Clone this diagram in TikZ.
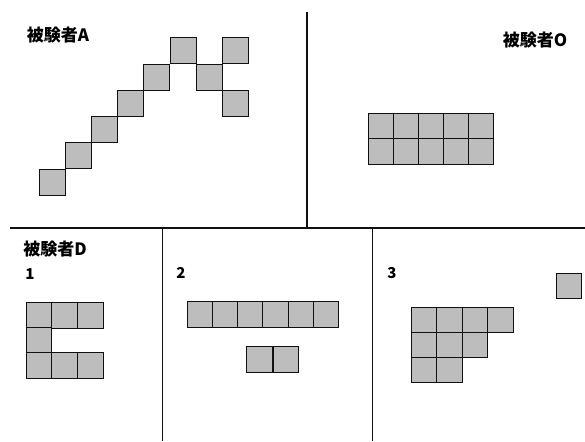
\documentclass[tikz,border=0pt]{standalone}
\usepackage{fontspec}
\newfontfamily\jpfont{Noto Sans CJK JP}
\usetikzlibrary{positioning}
\definecolor{cfill}{HTML}{BDBDBD}
\definecolor{cline}{HTML}{111111}
\tikzset{
  every picture/.style={x=1pt, y=-1pt},
  cell/.style={draw=cline, fill=cfill, line width=1pt, minimum size=#1, inner sep=0pt},
  cell/.default=26pt,
  divider/.style={draw=cline, line width=#1},
  divider/.default=1.6pt,
  title/.style={font=\jpfont\bfseries\fontsize{17}{17}\selectfont, inner sep=0pt},
  num/.style={font=\jpfont\bfseries\fontsize{15}{15}\selectfont, inner sep=0pt},
}

\begin{document}
\begin{tikzpicture}
  \useasboundingbox (0,0) rectangle (585,441);
  % panel dividers
  \draw[divider=2pt] (307,12) -- (307,228);
  \draw[divider] (10,228) -- (585,228);
  \draw[divider=0.9pt] (162,228) -- (162,441);
  \draw[divider=0.9pt] (372,228) -- (372,441);
  % subject A
  \node[title] (ta) at (58,35) {被験者A};
  \foreach \c/\r [count=\n] in {0/0,1/1,2/2,3/3,4/4,5/5,6/4,7/5,7/3}
    \node[cell] (a\n) at (52+26.2*\c, 182-26.2*\r) {};
  % subject O
  \node[title] (to) at (535,40) {被験者O};
  \foreach \c in {0,...,4}
    \foreach \r in {0,1}
      \node[cell=25.4pt] (o\c\r) at (380.7+25*\c, 126+25.5*\r) {};
  % subject D
  \node[title] (td) at (55,249) {被験者D};
  \node[num] (n1) at (30,274) {1};
  \node[num] (n2) at (181,273) {2};
  \node[num] (n3) at (392,273) {3};
  \foreach \c/\r [count=\n] in {0/0,1/0,2/0,0/1,0/2,1/2,2/2}
    \node[cell=25.5pt] (d\n) at (39+25.7*\c, 315.5+25*\r) {};
  \foreach \c in {0,...,5}
    \node[cell=25.3pt] (e\c) at (199.7+25.3*\c, 314.5) {};
  \node[cell=25.3pt] (f1) at (259.6,359.5) {};
  \node[cell=25.3pt, right=0pt of f1] (f2) {};
  \foreach \c/\r [count=\n] in {0/0,1/0,2/0,3/0,0/1,1/1,2/1,0/2,1/2}
    \node[cell=25.6pt] (g\n) at (423.8+25.6*\c, 319.8+25*\r) {};
  \node[cell=25.6pt] (g0) at (569,286) {};
\end{tikzpicture}
\end{document}
